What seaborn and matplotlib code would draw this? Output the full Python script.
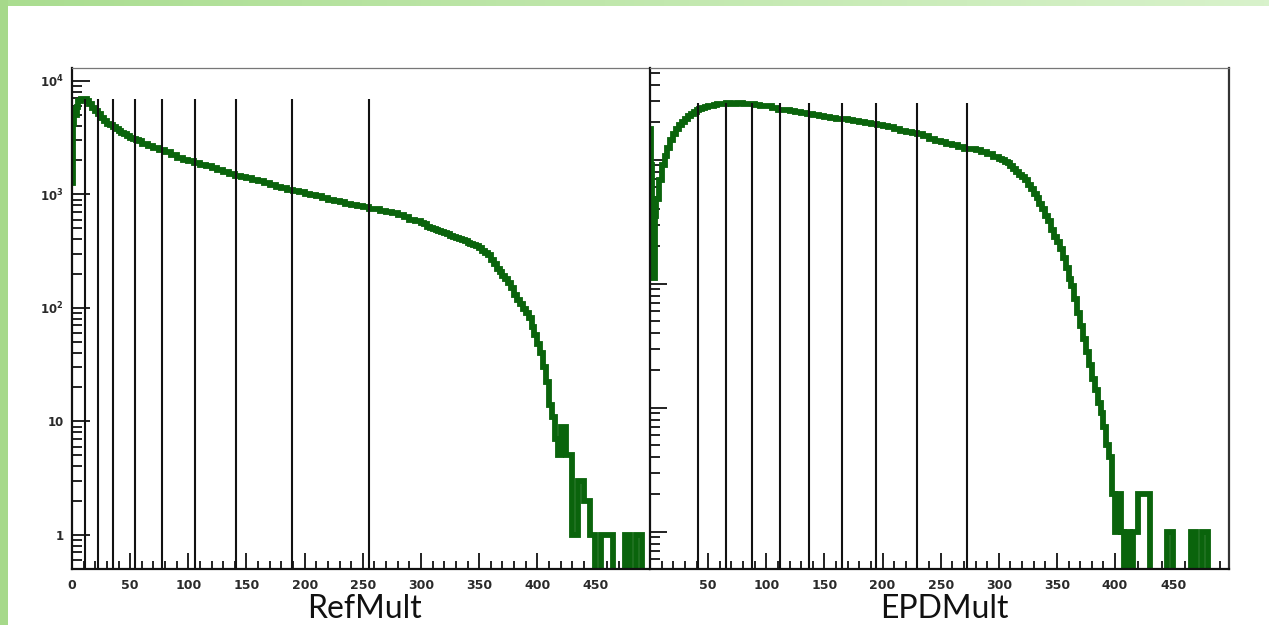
import numpy as np
import pandas as pd
import matplotlib
matplotlib.use("Agg")
import matplotlib.pyplot as plt
from matplotlib.colors import LinearSegmentedColormap
from matplotlib.patches import Rectangle
from matplotlib.ticker import LogLocator, MultipleLocator, NullFormatter
import seaborn as sns

# Histogram binning: finer bins where the spectra change quickly
bin_edges = np.r_[np.arange(0, 5, 1), np.arange(5, 60, 2.5), np.arange(60, 300, 5),
                  np.arange(300, 420, 2.5), np.arange(420, 501, 5)]

# RefMult event counts per bin
refmult_counts = [
    # 0-5
    1260, 4200, 5600, 5000, 5900,
    # 5-60
    6600, 6950, 6900, 6600, 6200, 5800, 5400, 5050, 4700, 4400, 4200,
    4050, 3900, 3750, 3600, 3480, 3370, 3250, 3150, 3080, 3000, 2920,
    # 60-300
    2800, 2680, 2560, 2480, 2350, 2200, 2100, 2020, 1950,
    1880, 1820, 1760, 1700, 1640, 1580, 1500, 1450, 1420, 1380,
    1340, 1300, 1260, 1220, 1170, 1130, 1100, 1070, 1040, 1010,
    980, 960, 930, 900, 875, 860, 830, 810, 790, 770,
    750, 735, 715, 700, 680, 660, 630, 600, 580,
    # 300-420
    560, 545, 520, 505, 495, 485, 472, 462,
    452, 444, 432, 420, 410, 400, 392, 385,
    376, 368, 360, 350, 335, 318, 302, 290,
    262, 243, 222, 205, 192, 178, 165, 150,
    130, 118, 108, 98, 90, 82, 68, 58,
    48, 40, 30, 22, 14, 11, 7, 5,
    # 420-500
    9, 5, 1, 3, 2, 1, 0, 1, 1, 0, 0, 1, 0, 1, 0, 0,
]

# EPDMult event counts per bin
epdmult_counts = [
    # 0-5
    1780, 900, 300, 112, 350,
    # 5-60
    480, 680, 900, 1080, 1250, 1450, 1620, 1780, 1920, 2030, 2140,
    2260, 2350, 2420, 2500, 2560, 2620, 2660, 2700, 2730, 2770, 2790,
    # 60-300
    2830, 2850, 2820, 2840, 2800, 2830, 2780, 2720, 2700,
    2600, 2540, 2520, 2480, 2440, 2380, 2340, 2300, 2260, 2220,
    2180, 2140, 2120, 2080, 2050, 2010, 1980, 1950, 1920, 1880,
    1820, 1760, 1710, 1680, 1640, 1600, 1540, 1480, 1420, 1380,
    1350, 1320, 1270, 1230, 1220, 1200, 1150, 1120, 1060,
    # 300-420
    1020, 990, 960, 935, 890, 840, 790, 750,
    720, 690, 630, 580, 530, 490, 440, 400,
    350, 320, 270, 240, 215, 190, 160, 135,
    110, 95, 75, 58, 46, 36, 28, 22,
    17, 14, 11, 9, 7, 5, 4, 2,
    1, 2, 1, 0, 1, 0, 1, 1,
    # 420-500
    2, 2, 0, 0, 0, 1, 0, 0, 0, 1, 0, 1, 0, 0, 0, 0,
]

# Centrality cut positions
refmult_cuts = [11, 22, 35, 54, 77, 106, 141, 189, 255]
epdmult_cuts = [41, 65, 88, 112, 137, 165, 194, 230, 273]

x_tick_values = [0, 50, 100, 150, 200, 250, 300, 350, 400, 450]
y_tick_values = [1, 10, 100, 1000, 10000]
y_tick_labels = ["1", "10", r"$\mathbf{10^{2}}$", r"$\mathbf{10^{3}}$", r"$\mathbf{10^{4}}$"]

GREEN = "#0a640c"
W, H = 1269, 625

sns.set_style("ticks")
plt.rcParams["font.family"] = ["DejaVu Sans"]

fig = plt.figure(figsize=(W / 100, H / 100), dpi=100)
fig.patch.set_facecolor("white")

# slide frame: green band along the top and the left edge
bg = fig.add_axes([0, 0, 1, 1], zorder=-10)
bg.set_axis_off()
band = LinearSegmentedColormap.from_list("band", ["#aadd90", "#d8f2cb"])
bg.imshow(np.linspace(0, 1, 256)[None, :], extent=[0, W, 6, 0], cmap=band, aspect="auto")
bg.add_patch(Rectangle((0, 0), 8, H, color="#a6d98a", lw=0))
bg.set_xlim(0, W)
bg.set_ylim(H, 0)


def panel(rect, counts, cuts, xmax, ylim, title, title_x, show_ylabels, ytick_len):
    ax = fig.add_axes(rect)
    # step outline: each count held from its left bin edge to the next edge
    df = pd.DataFrame({"mult": bin_edges, "events": list(counts) + [counts[-1]]})
    sns.lineplot(data=df, x="mult", y="events", drawstyle="steps-post",
                 estimator=None, sort=False, color=GREEN, linewidth=4.2,
                 solid_joinstyle="miter", ax=ax, zorder=2)
    ax.set_yscale("log")
    ax.set_xlim(0, xmax)
    ax.set_ylim(*ylim)
    ax.vlines(cuts, ylim[0], max(counts), colors="#111111", linewidth=1.5, zorder=3)
    ax.set_xlabel("")
    ax.set_ylabel("")

    ax.xaxis.set_major_locator(MultipleLocator(50))
    ax.xaxis.set_minor_locator(MultipleLocator(10))
    ax.set_xticks(x_tick_values)
    labels = [str(v) for v in x_tick_values]
    if not show_ylabels:
        labels[0] = ""
    ax.set_xticklabels(labels, fontweight="bold", fontsize=9, color="#2a2a2a")
    ax.tick_params(axis="x", which="major", direction="in", length=11.5, width=1.3,
                   bottom=True, top=False, pad=7, color="#111111")
    ax.tick_params(axis="x", which="minor", direction="in", length=5.8, width=1.3,
                   bottom=True, top=False, color="#111111")

    ax.yaxis.set_major_locator(LogLocator(base=10, numticks=12))
    ax.yaxis.set_minor_locator(LogLocator(base=10, subs=np.arange(2, 10), numticks=12))
    ax.yaxis.set_minor_formatter(NullFormatter())
    ax.set_yticks(y_tick_values)
    if show_ylabels:
        ax.set_yticklabels(y_tick_labels, fontweight="bold", fontsize=8.5, color="#2a2a2a")
    else:
        ax.set_yticklabels([""] * len(y_tick_values))
    ax.set_ylim(*ylim)
    ax.tick_params(axis="y", which="major", direction="in", length=ytick_len, width=1.3,
                   left=True, right=False, pad=6, color="#111111")
    ax.tick_params(axis="y", which="minor", direction="in", length=7, width=1.3,
                   left=True, right=False, color="#111111")

    for side in ("left", "bottom"):
        ax.spines[side].set_color("#111111")
        ax.spines[side].set_linewidth(1.6)
    ax.spines["top"].set_color("#777777")
    ax.spines["top"].set_linewidth(0.9)
    ax.spines["right"].set_color("#333333")
    ax.spines["right"].set_linewidth(1.6)
    ax.spines["right"].set_visible(not show_ylabels)
    ax.set_facecolor("white")
    if ax.get_legend() is not None:
        ax.get_legend().remove()

    fig.text(title_x / W, 0.5 / H, title, ha="center", va="bottom",
             fontsize=23, family=["Lato", "DejaVu Sans"], color="#111111")
    return ax


bottom = (H - 569) / H
height = (569 - 68) / H
panel([72 / W, bottom, (649 - 72) / W, height], refmult_counts, refmult_cuts,
      496, (0.5, 12970), "RefMult", 364, True, 13)
panel([650 / W, bottom, (1229 - 650) / W, height], epdmult_counts, epdmult_cuts,
      498, (0.5, 5490), "EPDMult", 944, False, 12)

fig.savefig("out.png", dpi=100, facecolor=fig.get_facecolor())
